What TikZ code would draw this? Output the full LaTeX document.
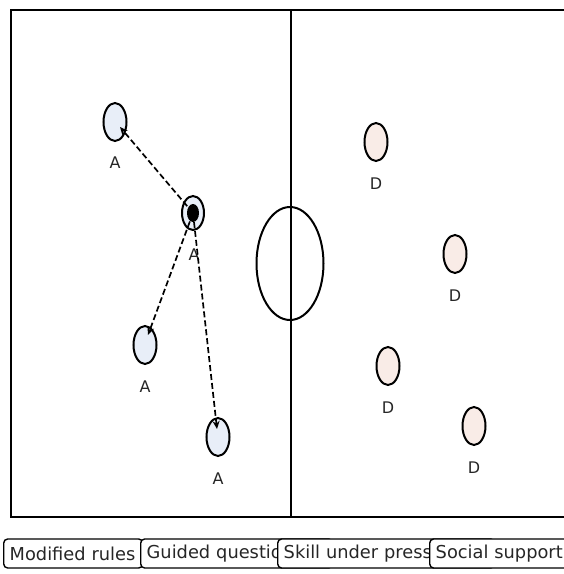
\documentclass[tikz,border=0pt]{standalone}
\usepackage{fontspec}
\setmainfont{DejaVu Sans}
\usetikzlibrary{arrows.meta,shapes.geometric}
\definecolor{attfill}{RGB}{232,238,248}
\definecolor{deffill}{RGB}{249,236,231}
\begin{document}
\begin{tikzpicture}[x=1pt,y=-1pt,
  fieldline/.style={line width=2.2pt,black},
  player/.style={draw=black,line width=2pt,ellipse,minimum width=23pt,minimum height=38pt,inner sep=0pt},
  attacker/.style={player,fill=attfill},
  defender/.style={player,fill=deffill},
  tag/.style={font=\fontsize{16}{16}\selectfont,text=black!85,inner sep=0pt},
  pass/.style={line width=1.7pt,dash pattern=on 6pt off 3pt,-{Stealth[length=8pt,width=7pt]}},
  cue/.style={draw=black,line width=1.4pt,fill=white,rounded corners=4pt,anchor=west,
    align=left,inner xsep=6pt,minimum height=29pt,font=\fontsize{17.8}{17.8}\selectfont,text=black!85}
]
\useasboundingbox (0,0) rectangle (564,574);
\clip (0,0) rectangle (564,574);

% pitch outline, halfway line and centre circle
\draw[fieldline] (11,10) rectangle (600,517);
\draw[fieldline,line width=1.8pt] (291,10) -- (291,517);
\draw[fieldline,line width=2pt] (290,263.5) ellipse (33.5pt and 56.5pt);

% attackers
\node[attacker] (a1) at (115,122) {};
\node[attacker] (a3) at (145,345) {};
\node[attacker] (a4) at (218,437) {};
\node[tag] at (115,163) {A};
\node[tag] at (145,387) {A};
\node[tag] at (218,479) {A};

% defenders
\node[defender] (d1) at (376,142) {};
\node[defender] (d2) at (455,254) {};
\node[defender] (d3) at (388,366) {};
\node[defender] (d4) at (474,426) {};
\node[tag] at (376,184) {D};
\node[tag] at (455,296) {D};
\node[tag] at (388,408) {D};
\node[tag] at (474,468) {D};

% ball carrier
\node[attacker,minimum width=22pt,minimum height=34pt] (bc) at (193,213) {};
\fill[black] (bc.center) ellipse (6pt and 9pt);
\node[tag] at (194,255) {A};

% passing options
\coordinate (t1) at (120,127);
\coordinate (t3) at (148,335);
\coordinate (t4) at (217,429);
\draw[pass] (bc.center) -- (t1);
\draw[pass] (bc.center) -- (t3);
\draw[pass] (bc.center) -- (t4);

% coaching cues along the bottom
\node[cue,text width=127pt] (c1) at (3,553.5) {Modified rules};
\node[cue,text width=180pt] (c2) at (140,553.5) {Guided questions};
\node[cue,text width=205pt] (c3) at (277,553.5) {Skill under pressure};
\node[cue,text width=150pt] (c4) at (429,553.5) {Social support};
\end{tikzpicture}
\end{document}
